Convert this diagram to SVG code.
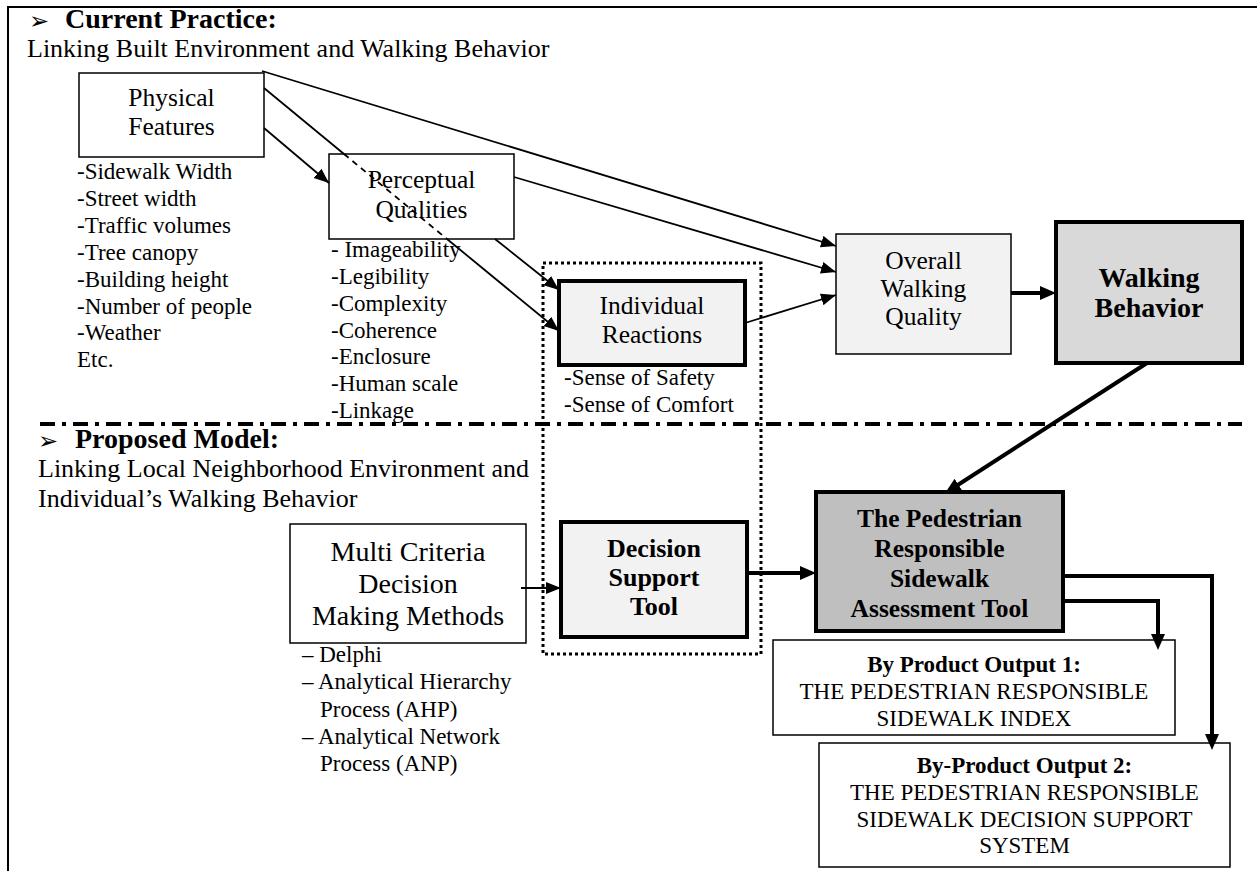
<svg xmlns="http://www.w3.org/2000/svg" width="1257" height="871" viewBox="0 0 1257 871">
<style>
  text{font-family:"Liberation Serif","Times New Roman",serif;fill:#000}
  .c{text-anchor:middle}
  .b{font-weight:bold}
  .f25{font-size:25.5px}
  .f23{font-size:23px}
  .f26{font-size:26px}
  .f28{font-size:28px}
  .arr{font-family:"DejaVu Sans",sans-serif;font-size:24px}
  .thin{fill:#fff;stroke:#000;stroke-width:1.5}
  .thick{stroke:#000;stroke-width:4}
  .ln{fill:none;stroke:#000;stroke-width:1.8}
  .lk{fill:none;stroke:#000;stroke-width:4}
</style>
<defs>
  <marker id="ah" markerUnits="userSpaceOnUse" markerWidth="16" markerHeight="13" refX="15" refY="6" orient="auto">
    <path d="M0,0 L15,6 L0,12 z" fill="#000"/>
  </marker>
  <marker id="ahk" markerUnits="userSpaceOnUse" markerWidth="17" markerHeight="15" refX="10" refY="7" orient="auto">
    <path d="M0,0 L16,7 L0,14 z" fill="#000"/>
  </marker>
</defs>

<rect width="1257" height="871" fill="#fff"/>
<g id="frame">
  <path d="M8,871 V7 H1257" fill="none" stroke="#000" stroke-width="2"/>
  <path d="M40,424 H1242" fill="none" stroke="#000" stroke-width="4" stroke-dasharray="15 7 4 7"/>
</g>

<g id="heading-current">
  <text class="arr" x="29" y="29">➢</text>
  <text class="b f28" x="65" y="28">Current Practice:</text>
  <text class="f26" x="27" y="57">Linking Built Environment and Walking Behavior</text>
</g>

<g id="physical">
  <rect class="thin" x="79" y="73" width="185" height="84"/>
  <text class="c f25" x="171.5" y="106">Physical</text>
  <text class="c f25" x="171.5" y="135">Features</text>
  <text class="f23" x="77" y="179">-Sidewalk Width</text>
  <text class="f23" x="77" y="206">-Street width</text>
  <text class="f23" x="77" y="233">-Traffic volumes</text>
  <text class="f23" x="77" y="260">-Tree canopy</text>
  <text class="f23" x="77" y="287">-Building height</text>
  <text class="f23" x="77" y="314">-Number of people</text>
  <text class="f23" x="77" y="340">-Weather</text>
  <text class="f23" x="77" y="367">Etc.</text>
</g>

<g id="perceptual">
  <rect class="thin" x="329" y="154" width="185" height="85"/>
  <text class="c f25" x="421.5" y="188">Perceptual</text>
  <text class="c f25" x="421.5" y="218">Qualities</text>
  <text class="f23" x="331" y="257">- Imageability</text>
  <text class="f23" x="331" y="284">-Legibility</text>
  <text class="f23" x="331" y="311">-Complexity</text>
  <text class="f23" x="331" y="338">-Coherence</text>
  <text class="f23" x="331" y="364">-Enclosure</text>
  <text class="f23" x="331" y="391">-Human scale</text>
  <text class="f23" x="331" y="418">-Linkage</text>
</g>

<g id="dotted-group">
  <rect x="543" y="263" width="218" height="391" fill="none" stroke="#000" stroke-width="3" stroke-dasharray="3 3"/>
</g>

<g id="individual">
  <rect class="thick" fill="#f2f2f2" x="559" y="281" width="186" height="84"/>
  <text class="c f25" x="652" y="314">Individual</text>
  <text class="c f25" x="652" y="343">Reactions</text>
  <text class="f23" x="564" y="385">-Sense of Safety</text>
  <text class="f23" x="564" y="412">-Sense of Comfort</text>
</g>

<g id="overall">
  <rect x="836" y="234" width="175" height="120" fill="#f2f2f2" stroke="#000" stroke-width="1.5"/>
  <text class="c f25" x="923.5" y="269">Overall</text>
  <text class="c f25" x="923.5" y="297">Walking</text>
  <text class="c f25" x="923.5" y="325">Quality</text>
</g>

<g id="walking-behavior">
  <rect class="thick" fill="#d9d9d9" x="1056" y="222" width="186" height="141"/>
  <text class="c b f28" x="1149" y="287">Walking</text>
  <text class="c b f28" x="1149" y="317">Behavior</text>
</g>

<g id="heading-proposed">
  <text class="arr" x="38" y="449">➢</text>
  <text class="b f28" x="75" y="448">Proposed Model:</text>
  <text class="f26" x="38" y="477">Linking Local Neighborhood Environment and</text>
  <text class="f26" x="38" y="507">Individual’s Walking Behavior</text>
</g>

<g id="mcdm">
  <rect class="thin" x="290" y="524" width="236" height="119"/>
  <text class="c f28" x="408" y="561">Multi Criteria</text>
  <text class="c f28" x="408" y="593">Decision</text>
  <text class="c f28" x="408" y="625">Making Methods</text>
  <text class="f23" x="302" y="662">– Delphi</text>
  <text class="f23" x="302" y="689">– Analytical Hierarchy</text>
  <text class="f23" x="320" y="717">Process (AHP)</text>
  <text class="f23" x="302" y="744">– Analytical Network</text>
  <text class="f23" x="320" y="771">Process (ANP)</text>
</g>

<g id="decision-support">
  <rect class="thick" fill="#f2f2f2" x="561" y="522" width="186" height="115"/>
  <text class="c b f26" x="654" y="557">Decision</text>
  <text class="c b f26" x="654" y="586">Support</text>
  <text class="c b f26" x="654" y="615">Tool</text>
</g>

<g id="assessment-tool">
  <rect class="thick" fill="#bfbfbf" x="816" y="492" width="247" height="139"/>
  <text class="c b f25" x="939.5" y="527">The Pedestrian</text>
  <text class="c b f25" x="939.5" y="557">Responsible</text>
  <text class="c b f25" x="939.5" y="587">Sidewalk</text>
  <text class="c b f25" x="939.5" y="617">Assessment Tool</text>
</g>

<g id="output1">
  <rect class="thin" x="773" y="640" width="402" height="95"/>
  <text class="c b f23" x="974" y="672">By Product Output 1:</text>
  <text class="c f23" x="974" y="699">THE PEDESTRIAN RESPONSIBLE</text>
  <text class="c f23" x="974" y="726">SIDEWALK INDEX</text>
</g>

<g id="output2">
  <rect class="thin" x="819" y="743" width="411" height="124"/>
  <text class="c b f23" x="1024.5" y="773">By-Product Output 2:</text>
  <text class="c f23" x="1024.5" y="800">THE PEDESTRIAN RESPONSIBLE</text>
  <text class="c f23" x="1024.5" y="827">SIDEWALK DECISION SUPPORT</text>
  <text class="c f23" x="1024.5" y="853">SYSTEM</text>
</g>

<g id="connectors">
  <line class="ln" x1="262" y1="71" x2="836" y2="246" marker-end="url(#ah)"/>
  <line class="ln" x1="264" y1="128" x2="329" y2="183" marker-end="url(#ah)"/>
  <line class="ln" x1="264" y1="88" x2="344" y2="154"/>
  <line class="ln" x1="344" y1="154" x2="447" y2="239" stroke-dasharray="6 5"/>
  <line class="ln" x1="447" y1="239" x2="559" y2="331" marker-end="url(#ah)"/>
  <line class="ln" x1="495" y1="239" x2="559" y2="290" marker-end="url(#ah)"/>
  <line class="ln" x1="514" y1="177" x2="836" y2="272" marker-end="url(#ah)"/>
  <line class="ln" x1="745" y1="323" x2="836" y2="295" marker-end="url(#ah)"/>
  <line class="lk" x1="1011" y1="293" x2="1050" y2="293" marker-end="url(#ahk)"/>
  <line class="lk" x1="1147" y1="363" x2="950" y2="490" stroke-width="5" marker-end="url(#ahk)"/>
  <line class="ln" x1="521" y1="588" x2="561" y2="588" marker-end="url(#ah)"/>
  <line class="lk" x1="747" y1="573" x2="810" y2="573" stroke-width="5" marker-end="url(#ahk)"/>
  <path class="lk" d="M1063,576 H1212 V744" stroke-width="3.5" marker-end="url(#ahk)"/>
  <path class="lk" d="M1063,601 H1158 V644" stroke-width="3.5" marker-end="url(#ahk)"/>
</g>
</svg>
